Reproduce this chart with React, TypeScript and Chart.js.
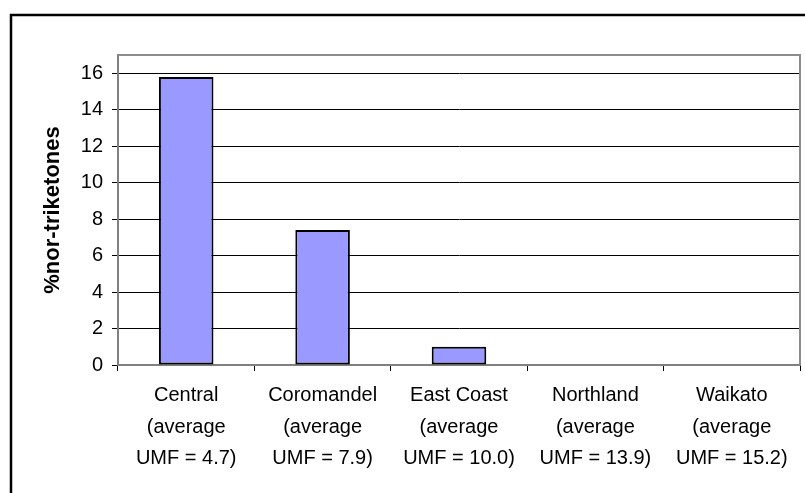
import { useEffect, useRef } from "react";
import { Chart, registerables } from "chart.js";

Chart.register(...registerables);

const regions = ["Central", "Coromandel", "East Coast", "Northland", "Waikato"];
const umfAverages = ["4.7", "7.9", "10.0", "13.9", "15.2"];
const norTriketones = [15.8, 7.4, 1.0, 0, 0];
const yTickValues = [0, 2, 4, 6, 8, 10, 12, 14, 16];
const yMax = 17;
const yTitle = "%nor-triketones";

const FONT = "'Liberation Sans', Arial, sans-serif";

const framePlugin = {
  id: "frame",
  beforeDraw(chart: any) {
    const ctx = chart.ctx;
    ctx.save();
    ctx.fillStyle = "#ffffff";
    ctx.fillRect(0, 0, chart.width, chart.height);
    ctx.strokeStyle = "#000000";
    ctx.lineWidth = 2.5;
    ctx.beginPath();
    ctx.moveTo(11, chart.height + 2);
    ctx.lineTo(11, 15);
    ctx.lineTo(chart.width + 2, 15);
    ctx.stroke();
    ctx.restore();
  },
  afterDraw(chart: any) {
    const { left, top, right, bottom } = chart.chartArea;
    const ctx = chart.ctx;
    ctx.save();
    ctx.strokeStyle = "#8c8c8c";
    ctx.lineWidth = 2;
    ctx.beginPath();
    ctx.moveTo(left, top);
    ctx.lineTo(right, top);
    ctx.lineTo(right, bottom);
    ctx.stroke();
    ctx.restore();
  },
};

export default function App() {
  const ref = useRef<HTMLCanvasElement | null>(null);

  useEffect(() => {
    document.body.style.margin = "0";
    const canvas = ref.current;
    if (!canvas) return;
    const labels = regions.map((r, i) => [r, "(average", `UMF = ${umfAverages[i]})`]);
    const chart = new Chart(canvas, {
      type: "bar",
      data: {
        labels,
        datasets: [
          {
            data: norTriketones,
            backgroundColor: "#9999ff",
            borderColor: "#000000",
            borderWidth: (c: any) => (c.raw === 0 ? 0 : 2),
            borderSkipped: false,
            barPercentage: 0.4,
            categoryPercentage: 1,
          },
        ],
      },
      options: {
        responsive: false,
        animation: false,
        devicePixelRatio: 1,
        layout: { padding: { top: 55, right: 5, left: 0, bottom: 0 } },
        plugins: {
          legend: { display: false },
          tooltip: { enabled: false },
          title: { display: false },
        },
        scales: {
          x: {
            afterFit: (s: any) => {
              s.height = 128;
            },
            grid: {
              drawOnChartArea: false,
              drawTicks: true,
              tickLength: 6,
              tickColor: "#000000",
              tickWidth: 1,
            },
            border: { display: true, color: "#808080", width: 2 },
            ticks: {
              color: "#000000",
              font: { family: FONT, size: 20, lineHeight: "31.5px" as any },
              padding: 9,
              maxRotation: 0,
              autoSkip: false,
            },
          },
          y: {
            min: 0,
            max: yMax,
            afterFit: (s: any) => {
              s.width = 118;
            },
            afterBuildTicks: (axis: any) => {
              axis.ticks = yTickValues.map((v) => ({ value: v }));
            },
            grid: {
              color: "#000000",
              lineWidth: 1,
              drawTicks: true,
              tickLength: 6,
              tickColor: "#000000",
            },
            border: { display: true, color: "#808080", width: 2 },
            ticks: {
              color: "#000000",
              font: { family: FONT, size: 20 },
              padding: 9,
            },
            title: {
              display: true,
              text: yTitle,
              color: "#000000",
              font: { family: FONT, size: 22, weight: "bold" },
              padding: { top: 40, bottom: 0 },
            },
          },
        },
      },
      plugins: [framePlugin],
    });
    return () => chart.destroy();
  }, []);

  return (
    <div style={{ width: 805, height: 493 }}>
      <canvas ref={ref} width={805} height={493} style={{ display: "block" }} />
    </div>
  );
}
